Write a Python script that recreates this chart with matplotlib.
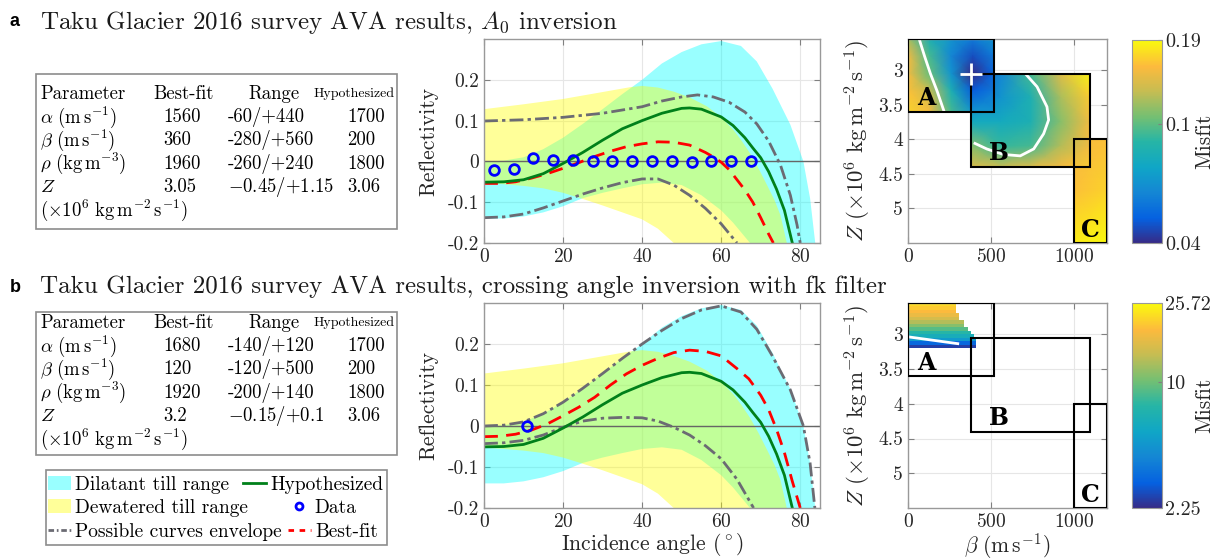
import numpy as np
import matplotlib
matplotlib.use('Agg')
import matplotlib.pyplot as plt
from matplotlib.colors import LinearSegmentedColormap, LogNorm
from matplotlib.lines import Line2D
from matplotlib.patches import Patch, Rectangle
from matplotlib.cm import ScalarMappable

plt.rcParams['font.family'] = ['cmr10', 'DejaVu Serif']
plt.rcParams['mathtext.fontset'] = 'cm'
plt.rcParams['axes.unicode_minus'] = False
plt.rcParams['axes.formatter.use_mathtext'] = True

W, H = 1212, 559

# ---- reflectivity ranges (same in both panels)
cyan_top_x = [0, 5, 10, 15, 20, 25, 30, 35, 40, 45, 50, 55, 60, 65, 69, 73, 77.5, 80.8, 82.5, 83.8]
cyan_top_y = [0.0, 0.002, 0.01, 0.03, 0.058, 0.092, 0.128, 0.165, 0.2, 0.24, 0.268, 0.287, 0.295, 0.283,
              0.245, 0.178, 0.09, 0.0, -0.091, -0.2]
cyan_bot_x = [0, 5, 10, 15, 20, 25, 30, 35, 40, 45, 50, 55, 60, 63, 67.3]
cyan_bot_y = [-0.14, -0.14, -0.135, -0.125, -0.11, -0.09, -0.077, -0.066, -0.056, -0.052, -0.058, -0.083,
              -0.12, -0.15, -0.2]
yel_top_x = [0, 10, 20, 30, 37, 40, 44, 48, 52, 56.4, 60, 63.1, 65, 67.3, 69.5, 71.6, 73.5, 75, 76.6]
yel_top_y = [0.128, 0.14, 0.153, 0.17, 0.182, 0.185, 0.181, 0.171, 0.157, 0.135, 0.108, 0.077, 0.053,
             0.02, -0.018, -0.058, -0.095, -0.132, -0.2]
yel_bot_x = [0, 5, 10, 15, 20, 25, 30, 35, 40, 44, 48]
yel_bot_y = [-0.053, -0.056, -0.06, -0.066, -0.077, -0.092, -0.108, -0.125, -0.142, -0.165, -0.2]

# hypothesized curve (same in both panels)
hyp_x = [0, 5, 10, 15, 20, 25, 30, 35, 40, 45, 50, 52, 55, 60, 63, 66, 68, 70, 72, 74, 76, 78]
hyp_y = [-0.051, -0.05, -0.045, -0.03, -0.005, 0.022, 0.052, 0.08, 0.1, 0.118, 0.13, 0.131, 0.128,
         0.109, 0.088, 0.058, 0.033, 0.009, -0.025, -0.068, -0.12, -0.2]

# panel a
a_up_x = [0, 10, 20, 30, 40, 45, 50, 54, 58, 62, 66, 69, 72, 75, 77.5, 79.2, 80]
a_up_y = [0.099, 0.102, 0.108, 0.118, 0.134, 0.148, 0.158, 0.163, 0.158, 0.145, 0.121, 0.092, 0.05,
          -0.009, -0.083, -0.156, -0.2]
a_lo_x = [0, 5, 10, 15, 20, 25, 30, 35, 40, 44, 48, 52, 56, 60, 64]
a_lo_y = [-0.138, -0.136, -0.129, -0.114, -0.097, -0.08, -0.065, -0.052, -0.043, -0.043, -0.058, -0.083,
          -0.115, -0.153, -0.2]
a_best_x = [0, 4, 8, 12, 16, 20, 24, 28, 32, 36, 40, 44, 48, 52, 56, 58, 60, 62, 64, 66, 68, 70, 72, 73.2]
a_best_y = [-0.054, -0.054, -0.05, -0.041, -0.03, -0.017, -0.003, 0.012, 0.025, 0.036, 0.043, 0.048,
            0.047, 0.04, 0.022, 0.011, -0.002, -0.02, -0.045, -0.07, -0.1, -0.138, -0.178, -0.2]
a_data_x = [2.5, 7.5, 12.5, 17.5, 22.5, 27.5, 32.5, 37.5, 42.5, 47.5, 52.5, 57.5, 62.5, 67.5]
a_data_y = [-0.021, -0.018, 0.008, 0.004, 0.004, 0.002, 0.001, 0.0, 0.0, 0.0, -0.001, 0.0, 0.0, 0.0]

# panel b
b_up_x = [0, 5, 10, 15, 20, 25, 30, 35, 40, 45, 50, 55, 60, 65, 69, 73, 77.5, 80.8, 82.5, 83.7]
b_up_y = [0.0, 0.002, 0.01, 0.03, 0.058, 0.092, 0.128, 0.165, 0.2, 0.233, 0.262, 0.283, 0.293, 0.278,
          0.236, 0.17, 0.088, 0.0, -0.091, -0.2]
b_lo_x = [0, 5, 10, 15, 20, 25, 30, 35, 40, 44, 48, 52, 56, 60, 64, 68.2]
b_lo_y = [-0.043, -0.041, -0.035, -0.022, -0.003, 0.012, 0.019, 0.021, 0.02, 0.012, -0.003, -0.022,
          -0.048, -0.08, -0.13, -0.2]
b_best_x = [0, 4, 8, 12, 16, 20, 24, 28, 32, 36, 40, 44, 48, 52, 56, 60, 64, 67, 70, 72, 74, 76, 78, 80]
b_best_y = [-0.026, -0.025, -0.02, -0.01, 0.005, 0.025, 0.046, 0.07, 0.1, 0.127, 0.148, 0.165, 0.179,
            0.185, 0.182, 0.171, 0.14, 0.115, 0.075, 0.04, -0.008, -0.065, -0.135, -0.2]
b_data_x = [11]
b_data_y = [0.0]

refl_ticks = [-0.2, -0.1, 0, 0.1, 0.2]
refl_labels = ['-0.2', '-0.1', '0', '0.1', '0.2']
ang_ticks = [0, 20, 40, 60, 80]

# ---- misfit maps
boxes = {'A': (0, 520, 2.55, 3.6), 'B': (380, 1100, 3.05, 4.4), 'C': (1000, 1200, 4.0, 5.5)}
box_label_pos = {'A': (111, 3.41), 'B': (545, 4.2), 'C': (1100, 5.31)}

mapA_beta = [0, 130, 260, 390, 520]
mapA_z = [2.55, 2.8, 3.05, 3.3, 3.6]
mapA = [[0.119, 0.081, 0.064, 0.055, 0.064],
        [0.150, 0.094, 0.059, 0.045, 0.055],
        [0.150, 0.102, 0.064, 0.040, 0.050],
        [0.158, 0.129, 0.081, 0.048, 0.055],
        [0.168, 0.150, 0.094, 0.064, 0.064]]
mapB_beta = [380, 560, 740, 920, 1100]
mapB_z = [3.05, 3.4, 3.75, 4.1, 4.4]
mapB = [[0.043, 0.059, 0.094, 0.139, 0.185],
        [0.055, 0.064, 0.081, 0.119, 0.163],
        [0.075, 0.075, 0.081, 0.110, 0.150],
        [0.110, 0.090, 0.094, 0.123, 0.150],
        [0.139, 0.129, 0.139, 0.150, 0.163]]
mapC_beta = [1000, 1200]
mapC_z = [4.0, 4.75, 5.5]
mapC = [[0.150, 0.158],
        [0.158, 0.168],
        [0.182, 0.190]]
contA_beta = [70, 100, 135, 175, 215]
contA_z = [2.57, 2.8, 3.05, 3.3, 3.58]
contB_beta = [707, 778, 838, 848, 818, 758, 677, 576, 475, 404]
contB_z = [3.05, 3.24, 3.53, 3.72, 3.92, 4.14, 4.24, 4.22, 4.14, 4.06]
best_a = (380, 3.05)
misfit_a_ticks = [0.04, 0.1, 0.19]
misfit_a_labels = ['0.04', '0.1', '0.19']

# panel b map: rows of Z, each with a misfit value and right edge in beta
mapb_z_edges = [2.55, 2.6, 2.65, 2.7, 2.75, 2.8, 2.85, 2.9, 2.95, 3.0, 3.05, 3.1, 3.15, 3.2]
mapb_row_val = [21.7, 20.2, 18.7, 17.0, 15.0, 13.0, 11.0, 9.2, 7.6, 6.3, 5.0, 3.2, 2.5]
mapb_row_end = [290, 290, 290, 310, 310, 340, 340, 360, 380, 400, 410, 410, 410]
contb_beta = [10, 300]
contb_z = [3.04, 3.135]
misfit_b_ticks = [2.25, 10, 25.72]
misfit_b_labels = ['2.25', '10', '25.72']

# ---- tables
tab_head = ['Parameter', 'Best-fit', 'Range', 'Hypothesized']
tab_params = [r'$\alpha\ (\mathrm{m\,s^{-1}})$', r'$\beta\ (\mathrm{m\,s^{-1}})$',
              r'$\rho\ (\mathrm{kg\,m^{-3}})$', r'$Z$', r'$(\times10^6\ \mathrm{kg\,m^{-2}\,s^{-1}})$']
tab_a_best = ['1560', '360', '1960', '3.05']
tab_a_range = ['-60/+440', '-280/+560', '-260/+240', r'$-$0.45/+1.15']
tab_hyp = ['1700', '200', '1800', '3.06']
tab_b_best = ['1680', '120', '1920', '3.2']
tab_b_range = ['-140/+120', '-120/+500', '-200/+140', r'$-$0.15/+0.1']

leg_labels = ['Dilatant till range', 'Hypothesized', 'Dewatered till range', 'Data',
              'Possible curves envelope', 'Best-fit']

parula = LinearSegmentedColormap.from_list('parula', [
    (0.00, (0.21, 0.17, 0.53)), (0.12, (0.02, 0.38, 0.88)), (0.25, (0.08, 0.53, 0.83)),
    (0.37, (0.06, 0.65, 0.78)), (0.50, (0.15, 0.71, 0.65)), (0.62, (0.45, 0.75, 0.45)),
    (0.75, (0.78, 0.74, 0.32)), (0.87, (0.99, 0.73, 0.24)), (1.00, (0.98, 0.98, 0.05))])

CYAN = (0, 1, 1)
YEL = (1, 1, 0)
GREEN = (0, 0.5, 0.1)
GRAY = (0.42, 0.42, 0.45)
DASHDOT = (0, (5, 1.5, 1.2, 1.5))
DASH = (0, (5, 3))


def rect(l, t, r, b):
    return [l / W, 1 - b / H, (r - l) / W, (b - t) / H]


def fx(x):
    return x / W


def fy(y):
    return 1 - y / H


def style(ax):
    for s in ax.spines.values():
        s.set_color('0.6')
        s.set_linewidth(1)
    ax.tick_params(direction='in', length=4, color='0.5', labelsize=14, labelcolor='0.15',
                   top=True, right=True)
    ax.grid(True, color='0.9', lw=0.8)
    ax.set_axisbelow(True)


fig = plt.figure(figsize=(W / 100, H / 100), dpi=100)


def ava_panel(top, bot, up_x, up_y, lo_x, lo_y, best_x, best_y, dx, dy, xlabel):
    ax = fig.add_axes(rect(484, top, 820, bot))
    style(ax)
    ax.fill(cyan_top_x + cyan_bot_x[::-1], cyan_top_y + cyan_bot_y[::-1], color=CYAN, alpha=0.4, lw=0)
    ax.fill(yel_top_x + yel_bot_x[::-1], yel_top_y + yel_bot_y[::-1], color=YEL, alpha=0.4, lw=0)
    ax.axhline(0, color='0.4', lw=1)
    ax.plot(up_x, up_y, color=GRAY, lw=2, ls=DASHDOT)
    ax.plot(lo_x, lo_y, color=GRAY, lw=2, ls=DASHDOT)
    ax.plot(best_x, best_y, color='red', lw=2, ls=DASH)
    ax.plot(hyp_x, hyp_y, color=GREEN, lw=2)
    ax.plot(dx, dy, 'o', mfc='none', mec='blue', ms=7, mew=2)
    ax.set_xlim(0, 85)
    ax.set_ylim(-0.2, 0.3)
    ax.set_xticks(ang_ticks)
    ax.set_yticks(refl_ticks)
    ax.set_yticklabels(refl_labels)
    ax.set_ylabel('Reflectivity', fontsize=15.5, color='0.15')
    ax.yaxis.set_label_coords(-0.135, 0.5)
    if xlabel:
        ax.set_xlabel(r'Incidence angle $(^\circ)$', fontsize=15.5, color='0.15', labelpad=0)
    return ax


ava_panel(39, 243, a_up_x, a_up_y, a_lo_x, a_lo_y, a_best_x, a_best_y, a_data_x, a_data_y, False)
ava_panel(303, 508, b_up_x, b_up_y, b_lo_x, b_lo_y, b_best_x, b_best_y, b_data_x, b_data_y, True)


def map_axes(top, bot):
    ax = fig.add_axes(rect(908, top, 1107, bot))
    style(ax)
    ax.set_xlim(0, 1200)
    ax.set_ylim(5.5, 2.55)
    ax.set_xticks([0, 500, 1000])
    ax.set_yticks([3, 3.5, 4, 4.5, 5])
    ax.set_yticklabels(['3', '3.5', '4', '4.5', '5'])
    ax.set_ylabel(r'$Z\ (\times10^6\ \mathrm{kg\,m^{-2}\,s^{-1}})$', fontsize=16.5, color='0.15')
    ax.yaxis.set_label_coords(-0.175, 0.5)
    return ax


def draw_boxes(ax):
    for k, (b0, b1, z0, z1) in boxes.items():
        ax.add_patch(Rectangle((b0, z0), b1 - b0, z1 - z0, fill=False, ec='k', lw=1.5, zorder=5))
        ax.text(*box_label_pos[k], k, fontsize=17, fontweight='bold', ha='center', va='center',
                family=['DejaVu Serif'], zorder=6)


def colorbar(mappable, top, bot, ticks, labels):
    cax = fig.add_axes(rect(1132, top, 1162, bot))
    cb = fig.colorbar(mappable, cax=cax)
    cb.minorticks_off()
    cb.set_ticks(ticks)
    cb.set_ticklabels(labels)
    cb.outline.set_edgecolor('0.6')
    cax.tick_params(direction='in', length=3, color='0.5', labelsize=14.5, labelcolor='0.15', pad=2)
    cax.text(2.4, 0.5, 'Misfit', transform=cax.transAxes, rotation=90, ha='center', va='center',
             fontsize=15.5, color='0.15')


# panel a map
axm = map_axes(39, 243)
norm_a = LogNorm(0.04, 0.19)
for bx, bz, v in [(mapC_beta, mapC_z, mapC), (mapB_beta, mapB_z, mapB), (mapA_beta, mapA_z, mapA)]:
    BB, ZZ = np.meshgrid(bx, bz)
    axm.pcolormesh(BB, ZZ, np.array(v), shading='gouraud', cmap=parula, norm=norm_a)
axm.plot(contA_beta, contA_z, color='w', lw=2)
axm.plot(contB_beta, contB_z, color='w', lw=2)
axm.plot(*best_a, '+', color='w', ms=16, mew=2, zorder=7)
draw_boxes(axm)
colorbar(ScalarMappable(norm_a, parula), 40, 243, misfit_a_ticks, misfit_a_labels)

# panel b map
axm2 = map_axes(303, 508)
norm_b = LogNorm(2.25, 25.72)
beta_edges = np.arange(0, 430, 10)
beta_mid = (beta_edges[:-1] + beta_edges[1:]) / 2
grid_b = np.array([[v if bm < e else np.nan for bm in beta_mid]
                   for v, e in zip(mapb_row_val, mapb_row_end)])
axm2.pcolormesh(beta_edges, mapb_z_edges, np.ma.masked_invalid(grid_b), cmap=parula, norm=norm_b,
                shading='flat')
axm2.plot(contb_beta, contb_z, color='w', lw=2)
draw_boxes(axm2)
axm2.set_xlabel(r'$\beta\ (\mathrm{m\,s^{-1}})$', fontsize=15.5, color='0.15', labelpad=0)
colorbar(ScalarMappable(norm_b, parula), 303, 508, misfit_b_ticks, misfit_b_labels)

# titles
for lab, y, txt in [('a', 22, r'Taku Glacier 2016 survey AVA results, $A_0$ inversion'),
                    ('b', 287, 'Taku Glacier 2016 survey AVA results, crossing angle inversion with fk filter')]:
    fig.text(fx(10), fy(y), lab, fontsize=13, fontweight='bold', family=['Liberation Sans'],
             va='center')
    fig.text(fx(40), fy(y), txt, fontsize=18, va='center', color='0.1')


# tables
def table(top, bot, y0, best, rng):
    fig.add_artist(Rectangle((fx(36), fy(bot)), (397 - 36) / W, (bot - top) / H,
                             transform=fig.transFigure, fill=False, ec='0.55', lw=1.2))
    step = 23.2
    fs = 13.5
    fig.text(fx(40), fy(y0), tab_head[0], fontsize=fs, va='center')
    fig.text(fx(153), fy(y0), tab_head[1], fontsize=fs, va='center')
    fig.text(fx(248), fy(y0), tab_head[2], fontsize=fs, va='center')
    fig.text(fx(314), fy(y0), tab_head[3], fontsize=10, va='center')
    for i, p in enumerate(tab_params):
        fig.text(fx(40), fy(y0 + (i + 1) * step), p, fontsize=fs, va='center')
    for i in range(4):
        yy = fy(y0 + (i + 1) * step)
        fig.text(fx(163), yy, best[i], fontsize=fs, va='center')
        fig.text(fx(228), yy, rng[i], fontsize=fs, va='center')
        fig.text(fx(347), yy, tab_hyp[i], fontsize=fs, va='center')


table(74, 229, 94, tab_a_best, tab_a_range)
table(312, 455, 323, tab_b_best, tab_b_range)

# legend: frame plus one row legend per line (row-wise flow as in the original)
fig.add_artist(Rectangle((fx(46), fy(545)), (387 - 46) / W, 75 / H, transform=fig.transFigure,
                         fill=False, ec='0.55', lw=1.2))
leg_handles = [Patch(fc=CYAN, alpha=0.4, lw=0), Line2D([], [], color=GREEN, lw=2),
               Patch(fc=YEL, alpha=0.4, lw=0),
               Line2D([], [], ls='none', marker='o', mfc='none', mec='blue', ms=5, mew=2),
               Line2D([], [], color=GRAY, lw=2, ls=(0, (2, 1, 0.6, 1))),
               Line2D([], [], color='red', lw=2, ls=(0, (2, 2)))]
row_y = [485, 508, 532]
row_gap = [0.7, 2.0, 0.3]
for r in range(3):
    fig.legend(leg_handles[2 * r:2 * r + 2], leg_labels[2 * r:2 * r + 2], ncol=2, loc='center left',
               bbox_to_anchor=(fx(48), fy(row_y[r])), frameon=False, borderaxespad=0, borderpad=0,
               fontsize=14, handlelength=1.2, handletextpad=0.2, columnspacing=row_gap[r])

fig.savefig('out.png', dpi=100)
